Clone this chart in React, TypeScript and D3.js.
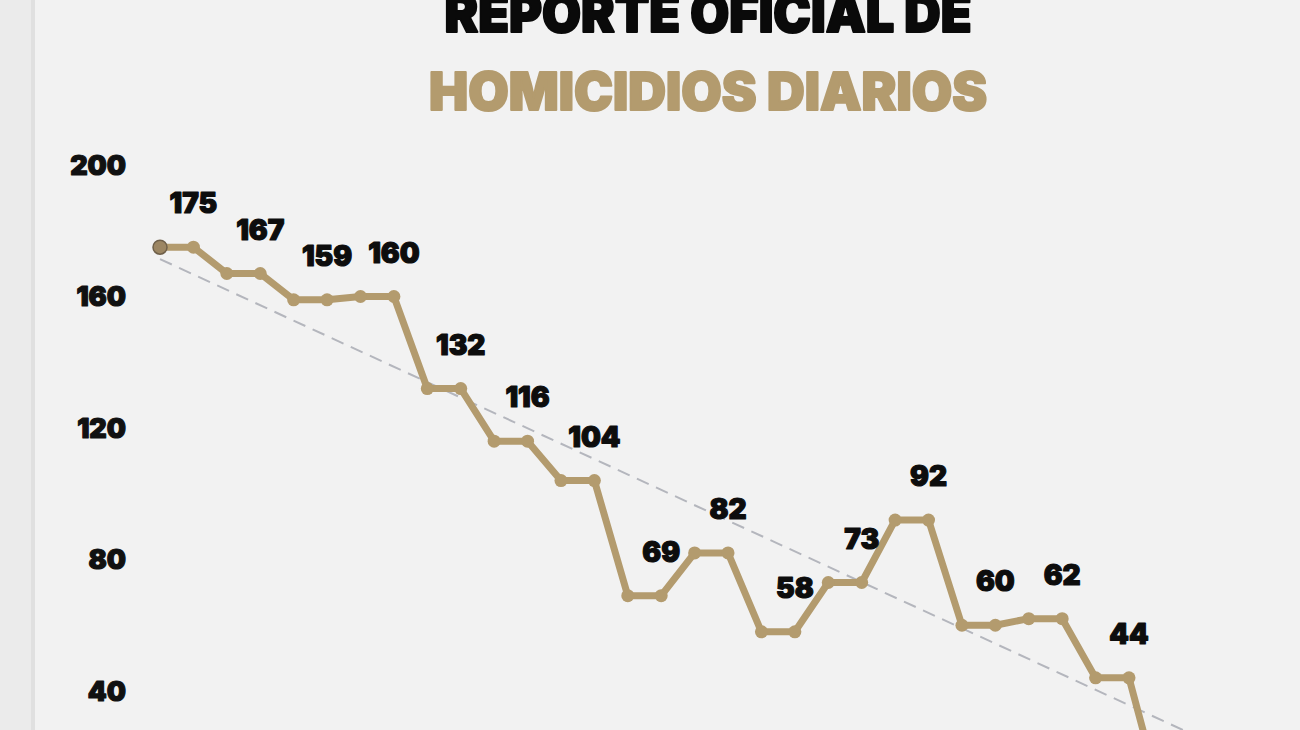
import * as d3 from 'd3';
import { useEffect, useRef } from 'react';

// each reported value sits on two consecutive points
const values = [
  175, 175, 167, 167, 159, 159, 160, 160, 132, 132, 116, 116, 104, 104, 69, 69,
  82, 82, 58, 58, 73, 73, 92, 92, 60, 60, 62, 62, 44, 44, 6, 6,
];
const labeledCount = 30;
const yTicks = [40, 80, 120, 160, 200];
const titleTop = 'REPORTE OFICIAL DE';
const titleBottom = 'HOMICIDIOS DIARIOS';

const W = 1300;
const H = 730;
const GOLD = '#b39b6e';
const FONT = "Inter, 'Noto Sans', sans-serif";

export default function App() {
  const svgRef = useRef<SVGSVGElement | null>(null);

  useEffect(() => {
    const svg = d3.select(svgRef.current);
    svg.selectAll('*').remove();

    svg.append('rect').attr('width', W).attr('height', H).attr('fill', '#f2f2f2');
    svg.append('rect').attr('width', 33).attr('height', H).attr('fill', '#ebebeb');
    svg.append('rect').attr('x', 31).attr('width', 4).attr('height', H).attr('fill', '#e0e0e0');

    const x = d3.scaleLinear().domain([0, 29]).range([160, 1129]);
    const y = d3.scaleLinear().domain([0, 200]).range([822.5, 165]);

    const heavy = (sel: any, color: string, w: number) =>
      sel
        .style('font-family', FONT)
        .style('font-weight', 900)
        .attr('fill', color)
        .attr('stroke', color)
        .attr('stroke-width', w)
        .attr('stroke-linejoin', 'round');

    // titles
    heavy(
      svg
        .append('text')
        .attr('x', 708)
        .attr('y', 32)
        .attr('text-anchor', 'middle')
        .attr('textLength', 527)
        .attr('lengthAdjust', 'spacingAndGlyphs')
        .style('font-size', '52px')
        .text(titleTop),
      '#0a0a0a',
      2
    );

    heavy(
      svg
        .append('text')
        .attr('x', 708)
        .attr('y', 110)
        .attr('text-anchor', 'middle')
        .attr('textLength', 558)
        .attr('lengthAdjust', 'spacingAndGlyphs')
        .style('font-size', '52px')
        .text(titleBottom),
      GOLD,
      2
    );

    // y axis labels
    heavy(
      svg
        .append('g')
        .selectAll('text')
        .data(yTicks)
        .enter()
        .append('text')
        .attr('x', 126)
        .attr('y', (d) => y(d))
        .attr('dy', '0.36em')
        .attr('text-anchor', 'end')
        .style('font-size', '27px')
        .text((d) => d),
      '#111',
      1.2
    );

    // linear trend over the labelled points
    const idx = d3.range(labeledCount);
    const mx = d3.mean(idx) ?? 0;
    const my = d3.mean(idx, (i) => values[i]) ?? 0;
    const slope =
      d3.sum(idx, (i) => (i - mx) * (values[i] - my)) / d3.sum(idx, (i) => (i - mx) ** 2);
    const trend = (i: number) => my + slope * (i - mx);
    const lastIdx = values.length - 1;

    svg
      .append('line')
      .attr('x1', x(0))
      .attr('y1', y(trend(0)))
      .attr('x2', x(lastIdx))
      .attr('y2', y(trend(lastIdx)))
      .attr('stroke', '#b4b6bd')
      .attr('stroke-width', 2)
      .attr('stroke-dasharray', '13 8');

    const line = d3
      .line<number>()
      .x((_, i) => x(i))
      .y((d) => y(d));

    svg
      .append('path')
      .datum(values)
      .attr('d', line)
      .attr('fill', 'none')
      .attr('stroke', GOLD)
      .attr('stroke-width', 7)
      .attr('stroke-linejoin', 'round');

    svg
      .append('g')
      .selectAll('circle')
      .data(values)
      .enter()
      .append('circle')
      .attr('cx', (_, i) => x(i))
      .attr('cy', (d) => y(d))
      .attr('r', (_, i) => (i === 0 ? 7 : 6.5))
      .attr('fill', (_, i) => (i === 0 ? '#9c8663' : GOLD))
      .attr('stroke', (_, i) => (i === 0 ? '#6f604a' : 'none'))
      .attr('stroke-width', 1.5);

    // value labels above the second point of each pair
    heavy(
      svg
        .append('g')
        .selectAll('text')
        .data(
          values
            .map((v, i) => ({ v, i }))
            .filter((d) => d.i % 2 === 1 && d.i < labeledCount)
        )
        .enter()
        .append('text')
        .attr('x', (d) => x(d.i))
        .attr('y', (d) => y(d.v) - 44)
        .attr('dy', '0.36em')
        .attr('text-anchor', 'middle')
        .style('font-size', '28px')
        .text((d) => d.v),
      '#0d0d0d',
      1.2
    );
  }, []);

  return (
    <svg
      ref={svgRef}
      width={W}
      height={H}
      style={{ position: 'fixed', top: 0, left: 0, display: 'block' }}
    />
  );
}
